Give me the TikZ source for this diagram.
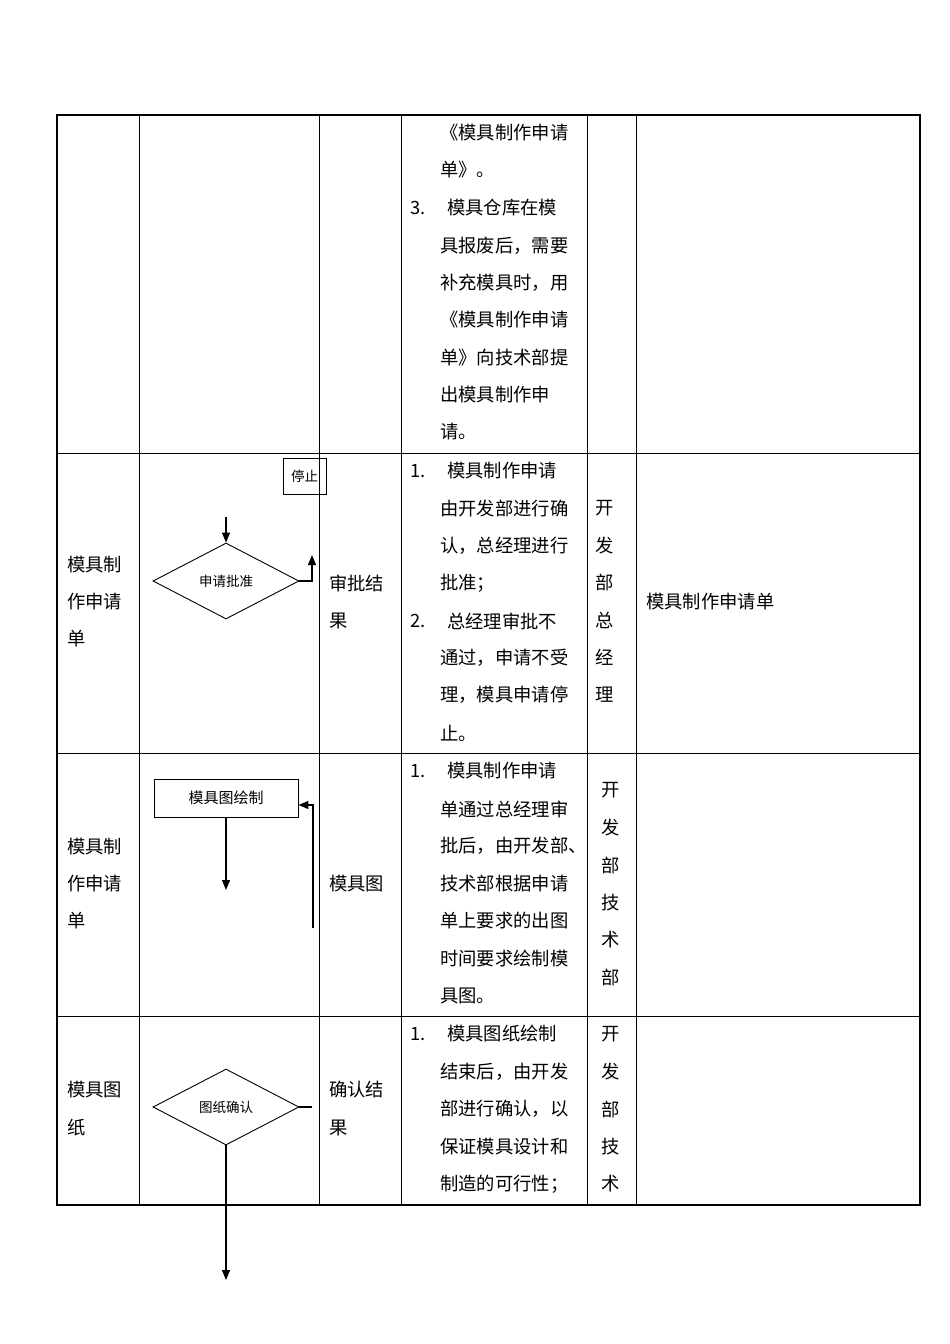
\documentclass[tikz,border=0pt]{standalone}
\usepackage{fontspec}
\setmainfont{Noto Sans CJK SC}
\usetikzlibrary{shapes.geometric,arrows.meta}
\begin{document}
\begin{tikzpicture}[x=1pt,y=-1pt,
  t/.style={anchor=west,inner sep=0pt,font=\fontsize{18.3}{18}\selectfont},
  tc/.style={inner sep=0pt,font=\fontsize{18.3}{18}\selectfont},
  sm/.style={inner sep=0pt,font=\fontsize{13.5}{14}\selectfont},
  arr/.style={-{Triangle[length=10pt,width=8pt]},line width=1.2pt},
  ln/.style={line width=1.2pt}]
\useasboundingbox (0,0) rectangle (950,1344);
% grid
\draw[line width=1.4pt] (57,115) rectangle (920,1205);
\foreach \x in {139,319,401,587,636} \draw[line width=0.8pt] (\x,115) -- (\x,1205);
\foreach \y in {453,753,1016} \draw[line width=0.8pt] (57,\y) -- (920,\y);
% row1
\node[t] (a1) at (440,133) {《模具制作申请};
\node[t] (a2) at (440,170) {单》。};
\node[t] (a3n) at (410,208) {3.};
\node[t] (a3) at (447,208) {模具仓库在模};
\node[t] (a4) at (440,246) {具报废后，需要};
\node[t] (a5) at (440,283) {补充模具时，用};
\node[t] (a6) at (440,320) {《模具制作申请};
\node[t] (a7) at (440,358) {单》向技术部提};
\node[t] (a8) at (440,395) {出模具制作申};
\node[t] (a9) at (440,432) {请。};
% row2
\node[t] (b11) at (67,565) {模具制};
\node[t] (b12) at (67,602) {作申请};
\node[t] (b13) at (67,639) {单};
\node[t] (b31) at (329,583) {审批结};
\node[t] (b32) at (329,621) {果};
\node[t] (b4n) at (410,471) {1.};
\node[t] (b41) at (447,471) {模具制作申请};
\node[t] (b42) at (440,509) {由开发部进行确};
\node[t] (b43) at (440,546) {认，总经理进行};
\node[t] (b44) at (440,583) {批准；};
\node[t] (b4m) at (410,621) {2.};
\node[t] (b45) at (447,621) {总经理审批不};
\node[t] (b46) at (440,658) {通过，申请不受};
\node[t] (b47) at (440,695) {理，模具申请停};
\node[t] (b48) at (440,733) {止。};
\foreach \c [count=\i] in {开,发,部,总,经,理} \node[tc] (b5\i) at (605,{471+37.3*\i}) {\c};
\node[t] (b6) at (646,602) {模具制作申请单};
% row3
\node[t] (c11) at (67,847) {模具制};
\node[t] (c12) at (67,884) {作申请};
\node[t] (c13) at (67,921) {单};
\node[t] (c3) at (329,884) {模具图};
\node[t] (c4n) at (410,771) {1.};
\node[t] (c41) at (447,771) {模具制作申请};
\node[t] (c42) at (440,809) {单通过总经理审};
\node[t] (c43) at (440,846) {批后，由开发部、};
\node[t] (c44) at (440,884) {技术部根据申请};
\node[t] (c45) at (440,921) {单上要求的出图};
\node[t] (c46) at (440,959) {时间要求绘制模};
\node[t] (c47) at (440,996) {具图。};
\foreach \c [count=\i] in {开,发,部,技,术,部} \node[tc] (c5\i) at (611,{753+37.4*\i}) {\c};
% row4
\node[t] (d11) at (67,1090) {模具图};
\node[t] (d12) at (67,1128) {纸};
\node[t] (d31) at (329,1090) {确认结};
\node[t] (d32) at (329,1128) {果};
\node[t] (d4n) at (410,1034) {1.};
\node[t] (d41) at (447,1034) {模具图纸绘制};
\node[t] (d42) at (440,1072) {结束后，由开发};
\node[t] (d43) at (440,1109) {部进行确认，以};
\node[t] (d44) at (440,1147) {保证模具设计和};
\node[t] (d45) at (440,1184) {制造的可行性；};
\foreach \c [count=\i] in {开,发,部,技,术} \node[tc] (d5\i) at (611,{997+37.4*\i}) {\c};
% flow
\node[draw,line width=0.9pt,minimum width=43pt,minimum height=36pt,inner sep=0pt,sm] (stop) at (304.5,476) {停止};
\node[draw,diamond,aspect=2,line width=0.9pt,minimum width=146pt,minimum height=76pt,inner sep=0pt,sm] (dia1) at (226,581) {申请批准};
\coordinate (in1) at (226,517);
\draw[arr] (in1) -- (dia1.north);
\coordinate (up1) at (312,555);
\draw[arr] (dia1.east) -| (up1);
\node[draw,line width=0.9pt,minimum width=144pt,minimum height=38pt,inner sep=0pt,font=\fontsize{15}{15}\selectfont] (box2) at (226,798) {模具图绘制};
\coordinate (o2) at (226,890);
\draw[arr] (box2.south) -- (o2);
\coordinate (r2) at (313,928);
\draw[arr] (r2) |- ([yshift=-7pt]box2.east);
\node[draw,diamond,aspect=2,line width=0.9pt,minimum width=146pt,minimum height=76pt,inner sep=0pt,sm] (dia2) at (226,1107) {图纸确认};
\coordinate (s2) at (312,1107);
\draw[ln] (dia2.east) -- (s2);
\coordinate (o3) at (226,1280);
\draw[arr] (dia2.south) -- (o3);
\end{tikzpicture}
\end{document}
